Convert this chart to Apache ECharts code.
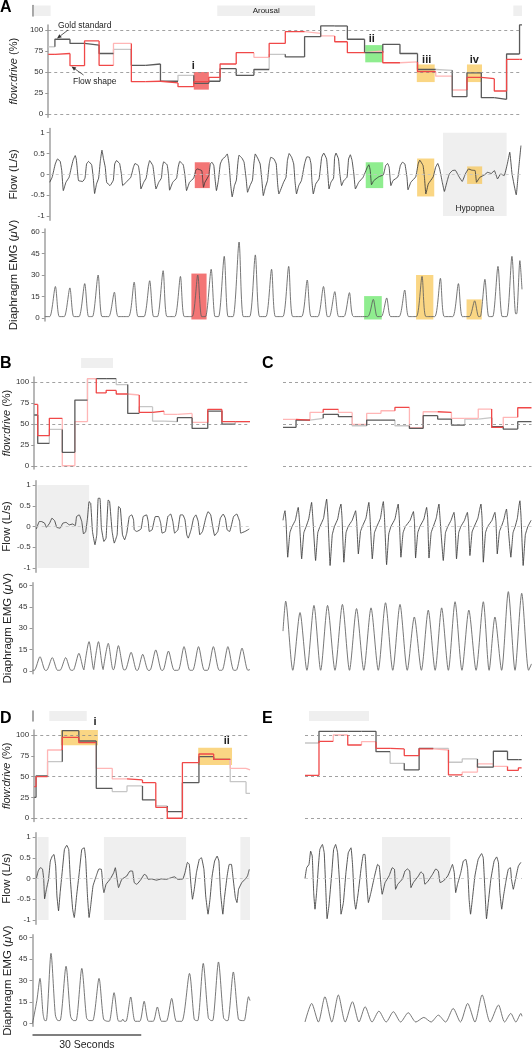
<!DOCTYPE html>
<html><head><meta charset="utf-8">
<script src="https://cdn.jsdelivr.net/npm/echarts@6/dist/echarts.min.js"></script>
<style>html,body{margin:0;padding:0;background:#fff}#c{width:532px;height:1050px}</style>
</head><body><div id="c"></div><script>
// ---------------- DATA (time in seconds) ----------------
const fdTicks = [0,25,50,75,100];
const flowTicks = [-1,-0.5,0,0.5,1];
const emgTicks = [0,15,30,45,60];

// Panel A flow:drive per breath
const fdBoundsA = [0,1.9,6.2,10.35,14.5,18.6,23.7,27.8,32.0,37.0,41.5,45.8,49.0,53.6,58.65,63.0,67.6,73.1,77.7,81.7,85.3,90.2,95.4,100.3,105.3,110.5,115.2,119.4,123.5,127.2,130.7,134.4,135.1];
const goldA = [80,89,84,82,72,77,58,59.5,39,46,36.5,39,54,46,53,71,68,92,104.8,104.8,89,73,83,72,53,52,20.6,49,19.4,17.5,71.4,106];
const goldAdark = [0,1,1,1,1,0,1,1,1,0,1,1,1,1,1,0,1,1,1,1,1,1,1,1,1,0,1,1,1,1,1,1];
const shapeA = [71,72,57.5,87,58,84,38.5,39,37,32.5,38.5,43.6,59.5,73,67.5,84,98,96,93,86,73,75,61,62,50.4,45,28.6,43.6,42,27.4,65,65];
const shapeAdark = [1,1,1,1,1,0,1,1,1,1,1,1,1,1,0,1,1,0,0,1,1,0,1,0,1,0,0,1,1,1,1,1];

const fdBoundsB = [0,0.97,4.2,7.8,11.3,14.8,17.25,20.0,22.8,26.0,29.2,32.9,36.1,39.8,43.9,48.25,52.2,55.9,60.0];
const goldB = [60.6,26.7,43.4,16,78.5,104,104,104,97,62.5,70.5,53.4,52.6,57.4,44.6,65.3,49.8,52.6];
const goldBdark = [1,1,0,1,1,0,1,1,0,1,0,0,0,1,1,1,1,0];
const shapeB = [73.3,35.9,56.6,0,52.6,104,87,90,85.7,84.5,63.7,65.3,61.4,62.5,51.8,67.3,52.6,52.6];
const shapeBdark = [1,1,1,0,0,0,1,1,1,0,1,1,0,0,0,1,1,1];

const fdBoundsC = [0,3.6,7.45,11.1,15.3,19.1,23.1,27.05,30.9,34.9,38.7,42.7,46.5,50.2,53.9,57.6,60.8,64.8,68.6];
const goldC = [45.8,54.6,56.6,61.4,58.6,47.8,54.6,54.6,47.8,44.6,59.8,55.8,48.6,55.8,57.4,46.6,43.8,52.6];
const goldCdark = [1,1,0,1,1,0,1,1,0,1,1,1,1,0,0,1,1,1];
const shapeC = [55.4,54.6,63.7,67.3,63.7,49.4,62.5,65.7,69.7,45.4,64.5,63.7,56.6,56.6,67.7,45.8,57.8,69.3];
const shapeCdark = [0,1,0,1,0,0,0,0,1,0,0,1,0,0,0,1,0,1];

const fdBoundsD = [0,0.5,3.7,7.8,12.4,17.25,21.7,25.8,30.1,33.8,37.0,41.2,45.8,49.9,54.5,58.9,60.0];
const goldD = [25,50.8,68,105.2,92.8,36,32,38.8,22,14.8,8,42.8,74,70.8,44,30];
const goldDdark = [1,1,0,1,1,1,0,0,1,0,1,1,1,1,0,0];
const shapeD = [38,50,82,97.2,90.8,60,47.2,46,42.8,13.2,0,66.8,77.2,70.8,60,58];
const shapeDdark = [1,1,0,1,1,0,0,1,1,1,1,1,1,1,0,0];

const fdBoundsE = [0,3.86,7.8,11.8,15.6,19.6,23.5,27.4,31.5,35.4,39.6,43.4,47.6,52.0,55.9,58.9,59.8];
const goldE = [90.4,104.4,104.4,104.4,104.4,80,66,58,84,84,67.3,71.3,61.4,80.5,70.5,70.5];
const goldEdark = [0,1,1,1,1,1,0,1,1,0,0,0,1,1,1,1];
const shapeE = [51.4,92.4,100,88,92,84,83.3,75.3,83.3,82,52.2,55.4,65.3,62.2,57.4,60.5];
const shapeEdark = [1,1,0,1,0,1,1,1,1,0,1,0,0,0,1,1];

// Flow traces [t, L/s]
const flowA = [[0,-0.19],[0.7,-0.07],[1.6,0.25],[2.25,0.37],[3.0,0.31],[3.45,0.09],[3.9,-0.39],[4.65,-0.19],[5.55,-0.07],
[6.2,0.17],[6.7,0.34],[7.3,0.45],[7.6,0.37],[7.85,0.17],[8.25,-0.15],[9.45,-0.17],[10.1,-0.09],
[10.55,0.25],[11.1,0.31],[12.0,0.23],[12.45,-0.07],[12.85,-0.46],[13.4,-0.23],[14.0,-0.09],
[14.5,0.33],[14.95,0.58],[15.4,0.37],[15.9,0.17],[16.3,-0.19],[17.25,-0.27],[18.2,-0.14],
[18.6,0.25],[19.1,0.33],[20.0,0.26],[20.5,0.01],[20.9,-0.27],[21.85,-0.19],[23.2,-0.07],
[23.95,0.17],[24.4,0.26],[25.35,0.21],[25.8,-0.03],[26.1,-0.35],[26.9,-0.19],[27.6,-0.09],
[28.1,0.17],[28.6,0.33],[29.5,0.21],[29.95,-0.07],[30.4,-0.35],[31.2,-0.19],[31.95,-0.09],
[32.25,0.17],[32.6,0.30],[33.6,0.23],[34.0,-0.03],[34.3,-0.38],[35.2,-0.19],[36.3,-0.09],
[36.75,0.17],[37.2,0.31],[38.2,0.23],[38.7,-0.03],[39.15,-0.39],[40.0,-0.19],[41.2,-0.09],
[41.8,0.10],[42.2,0.13],[43.5,0.09],[43.75,-0.11],[44.0,-0.31],[44.4,-0.19],[45.5,-0.03],
[45.95,0.25],[46.4,0.29],[46.95,0.21],[47.3,-0.11],[47.7,-0.39],[48.25,-0.15],
[48.8,0.25],[49.45,0.37],[50.1,0.41],[50.8,0.49],[51.3,0.25],[51.75,-0.23],[52.2,-0.54],[52.85,-0.27],[53.4,-0.14],
[53.8,0.25],[54.15,0.46],[55.0,0.39],[55.6,0.29],[56.2,-0.11],[56.6,-0.43],[57.3,-0.27],[58.0,-0.14],
[58.4,0.25],[58.8,0.49],[59.6,0.37],[60.2,0.25],[60.7,-0.15],[61.1,-0.51],[61.7,-0.31],[62.3,-0.15],
[62.8,0.25],[63.25,0.41],[64.15,0.37],[64.8,0.25],[65.2,-0.23],[65.55,-0.47],[66.9,-0.19],[67.6,-0.07],
[68.0,0.33],[68.5,0.50],[69.2,0.41],[69.8,0.25],[70.15,-0.15],[70.6,-0.47],[71.25,-0.27],[72.0,-0.15],
[72.9,0.25],[73.55,0.42],[74.3,0.41],[74.75,0.25],[75.0,-0.15],[75.4,-0.47],[76.1,-0.23],[77.05,-0.11],
[77.8,0.41],[78.4,0.51],[79.2,0.37],[79.5,0.09],[79.9,-0.35],[80.45,-0.19],[81.2,-0.09],
[81.5,0.41],[81.9,0.51],[82.6,0.37],[83.0,0.01],[83.5,-0.27],[84.1,-0.15],[85.05,-0.07],
[85.5,0.37],[86.0,0.47],[86.5,0.33],[87.0,0.01],[87.45,-0.35],[88.4,-0.19],[89.65,-0.07],
[90.85,0.17],[91.3,0.23],[91.7,0.09],[92.05,-0.25],[92.7,-0.15],[94.1,-0.06],[95.45,-0.01],
[96.1,0.21],[96.65,0.26],[97.1,0.17],[97.6,-0.27],[98.2,-0.15],[99.6,-0.06],
[100.3,0.21],[100.9,0.29],[101.6,0.25],[102.2,-0.07],[102.5,-0.37],[103.3,-0.19],[104.7,-0.06],
[105.4,0.25],[105.85,0.34],[106.8,0.21],[107.2,-0.07],[107.6,-0.47],[108.3,-0.23],[109.7,-0.06],
[110.4,0.17],[111.0,0.26],[111.55,0.13],[112.3,-0.19],[112.9,-0.41],[113.6,-0.19],[114.3,0.01],
[115.2,0.09],[116.0,0.10],[117.1,-0.06],[118.0,-0.17],[118.9,0.01],[119.8,0.13],[120.75,0.10],[121.7,0.09],[122.1,-0.19],[123.05,-0.07],[124.25,-0.02],[125.3,0.05],[126.3,0.02],[127.2,0.09],[128.1,-0.11],[129.0,0.01],[130.0,-0.03],
[130.9,0.25],[131.6,0.53],[132.25,0.01],[133.45,-0.49],[134.1,0.09],[134.8,0.69]];

const flowB = [[0.2,-0.06],[1.0,0.12],[1.6,0.12],[2.5,0.08],[3.0,-0.02],[3.9,0.08],[4.55,0.2],[5.3,0.14],[5.9,-0.02],[6.85,-0.04],[7.6,0.08],[8.5,0.10],[9.4,0.04],[10.35,0.06],[11.1,0.02],[11.45,0.24],[12.2,0.28],[12.9,0.12],[13.4,-0.18],[14.0,-0.12],[14.5,0.2],[14.95,0.6],[15.4,0.56],[15.9,-0.12],[16.6,-0.44],[17.1,-0.2],[17.5,0.68],[18.0,0.68],[18.4,-0.04],[19.1,-0.36],[19.7,-0.28],[20.3,0.64],[20.7,0.6],[21.4,-0.12],[22.0,-0.4],[22.8,-0.2],[23.2,0.48],[23.7,0.44],[24.3,-0.2],[24.9,-0.32],[25.5,-0.16],[26.2,0.24],[26.9,0.28],[27.4,0.16],[27.6,-0.08],[28.3,-0.12],[29.5,-0.06],[30.1,0.24],[31.05,0.28],[31.5,0.12],[31.8,-0.12],[32.6,-0.08],[33.5,0.24],[34.4,0.24],[35.0,0.08],[35.4,-0.16],[36.3,-0.12],[37.0,0.24],[37.8,0.3],[38.4,0.12],[38.9,-0.16],[39.8,-0.08],[40.5,0.28],[41.2,0.28],[41.8,0.16],[42.3,-0.2],[42.7,-0.28],[43.5,-0.08],[44.2,0.2],[44.85,0.28],[45.5,0.12],[45.95,-0.2],[46.7,-0.12],[47.6,0.2],[48.25,0.36],[49.0,0.28],[49.4,0.08],[50.1,-0.22],[51.0,-0.12],[51.7,0.2],[52.5,0.3],[53.1,0.2],[53.6,-0.08],[54.3,-0.12],[55.4,0.24],[56.3,0.3],[57.1,0.12],[57.4,-0.16],[58.6,-0.12],[59.8,-0.06]];

const flowC = [[0,0.15],[0.3,0.3],[0.55,0.38],[0.85,0.1],[1.3,-0.74],[1.9,-0.15],[2.5,0.0],[3.4,0.15],[3.9,0.36],[4.2,0.46],[4.5,0.2],[5.15,-0.78],[5.75,-0.15],[6.4,0.0],[7.1,0.18],[7.6,0.45],[7.9,0.58],[8.2,0.25],[9.0,-0.82],[9.6,-0.15],[10.2,0.0],[11.2,0.2],[11.7,0.5],[12.05,0.66],[12.4,0.25],[13.0,-0.94],[13.6,-0.2],[14.2,0.0],[15.1,0.18],[15.6,0.42],[16.0,0.54],[16.3,0.2],[16.8,-0.86],[17.4,-0.15],[18.0,0.0],[19.1,0.15],[19.7,0.3],[20.05,0.38],[20.35,0.1],[20.8,-0.66],[21.4,-0.12],[22.0,0.02],[22.9,0.2],[23.4,0.45],[23.7,0.58],[24.0,0.25],[24.65,-0.78],[25.25,-0.15],[25.9,0.0],[26.9,0.2],[27.4,0.48],[27.7,0.6],[28.0,0.25],[28.6,-0.92],[29.2,-0.18],[29.8,0.0],[30.9,0.18],[31.45,0.42],[31.8,0.54],[32.1,0.2],[32.55,-0.74],[33.15,-0.15],[33.8,0.0],[35.1,0.15],[35.7,0.3],[36.0,0.36],[36.3,0.1],[36.6,-0.76],[37.2,-0.15],[37.8,0.0],[38.9,0.18],[39.35,0.36],[39.65,0.46],[39.95,0.2],[40.3,-0.76],[40.9,-0.15],[41.5,0.0],[42.3,0.2],[42.75,0.42],[43.05,0.54],[43.35,0.2],[44.25,-0.82],[44.85,-0.15],[45.5,0.0],[46.4,0.15],[46.9,0.28],[47.2,0.34],[47.5,0.1],[47.9,-0.78],[48.5,-0.15],[49.1,0.0],[50.1,0.15],[50.6,0.28],[50.9,0.34],[51.2,0.1],[51.6,-0.7],[52.2,-0.13],[52.8,0.0],[53.8,0.2],[54.3,0.42],[54.65,0.54],[54.95,0.2],[55.3,-0.86],[55.9,-0.15],[56.5,0.0],[57.7,0.15],[58.2,0.28],[58.5,0.34],[58.8,0.1],[59.15,-0.66],[59.75,-0.12],[60.3,0.0],[61.0,0.18],[61.4,0.34],[61.7,0.42],[62.0,0.15],[62.9,-0.74],[63.5,-0.15],[64.1,0.0],[64.7,0.2],[65.1,0.48],[65.4,0.62],[65.7,0.25],[66.3,-0.94],[66.9,-0.2],[67.6,0.0],[68.5,0.15]];

const flowD = [[0.2,0],[0.7,0.18],[1.3,0.26],[1.9,0.23],[2.25,-0.02],[2.5,-0.49],[3.0,-0.26],[3.6,-0.02],[4.1,0.42],[4.65,0.54],[5.1,0.58],[5.6,0.3],[5.95,-0.42],[6.4,-0.78],[6.85,-0.34],[7.4,0.14],[8.05,0.7],[8.7,0.8],[9.25,0.7],[9.7,-0.02],[10.35,-0.74],[10.8,-0.94],[11.45,-0.42],[12.2,0.14],[12.9,0.7],[13.6,0.74],[14.0,0.46],[14.5,-0.42],[14.95,-0.94],[15.4,-0.66],[16.05,-0.18],[16.95,0.06],[17.7,0.23],[18.4,0.22],[18.8,-0.18],[19.1,-0.34],[19.7,-0.14],[20.9,-0.01],[21.85,0.14],[22.3,0.26],[22.8,-0.02],[23.2,-0.22],[24.1,-0.02],[25.5,0.06],[26.4,0.18],[27.1,0.18],[27.6,-0.1],[28.3,-0.14],[29.5,-0.02],[30.4,0.1],[31.0,0.07],[31.5,-0.02],[32.4,-0.01],[33.8,-0.04],[35.2,-0.01],[36.6,-0.02],[37.95,0.02],[38.9,0.04],[39.8,-0.02],[41.2,-0.01],[41.8,0.14],[42.5,0.39],[43.0,0.34],[43.5,-0.18],[43.9,-0.5],[44.4,-0.26],[45.0,0.14],[45.8,0.46],[46.4,0.5],[47.1,0.22],[47.6,-0.42],[48.25,-0.86],[48.8,-0.5],[49.4,0.06],[50.1,0.42],[50.8,0.54],[51.3,0.42],[51.75,-0.34],[52.4,-0.86],[52.8,-0.5],[53.6,0.06],[54.2,0.34],[54.8,0.34],[55.2,0.06],[55.9,-0.46],[56.35,-0.58],[56.8,-0.26],[57.7,-0.1],[58.6,-0.02],[59.3,0.06],[59.8,0.22]];

const flowE = [[0,0],[0.46,0.26],[1.1,0.34],[1.56,0.66],[2.0,0.54],[2.4,-0.34],[2.76,-0.74],[3.2,-0.34],[3.7,0.3],[4.1,0.7],[4.8,0.82],[5.3,0.62],[5.7,-0.18],[6.1,-0.97],[6.6,-0.66],[7.4,0.14],[7.9,0.7],[8.45,0.82],[9.0,0.62],[9.6,-0.18],[9.95,-0.86],[10.6,-0.58],[11.3,0.14],[11.95,0.62],[12.7,0.74],[13.15,0.3],[13.6,-0.5],[14.0,-0.74],[14.7,-0.34],[15.45,0.22],[16.1,0.58],[16.55,0.58],[17.0,-0.02],[17.5,-0.58],[18.2,-0.34],[19.1,0.02],[20.05,0.34],[20.5,0.3],[21.0,-0.18],[21.3,-0.38],[22.1,-0.1],[23.2,0.06],[24.1,0.26],[24.7,0.22],[25.0,-0.26],[25.6,-0.14],[26.9,-0.01],[27.6,0.18],[28.3,0.23],[28.9,0.18],[29.25,-0.22],[29.9,-0.1],[31.3,0.06],[32.0,0.16],[32.7,0.1],[33.1,-0.14],[34.0,-0.06],[35.2,0.1],[36.1,0.23],[36.8,0.18],[37.3,-0.1],[38.2,-0.06],[39.4,0.06],[40.0,0.18],[40.7,0.34],[41.2,0.14],[41.6,-0.34],[42.1,-0.14],[43.0,0.14],[43.7,0.42],[44.4,0.46],[44.9,0.22],[45.3,-0.5],[45.7,-0.86],[46.2,-0.5],[46.9,0.06],[47.8,0.46],[48.75,0.6],[49.2,0.5],[49.7,-0.34],[50.1,-0.97],[50.6,-0.58],[51.3,-0.02],[52.2,0.42],[52.9,0.52],[53.4,0.38],[53.8,-0.34],[54.3,-0.74],[54.8,-0.42],[55.4,-0.1],[56.1,0.22],[56.7,0.26],[57.0,-0.02],[57.5,-0.26],[58.1,-0.02],[58.9,0.3],[59.6,0.39]];

// Diaphragm EMG traces [t, µV]
const emgA = [[0,1],[1.4,1],[3.0,22],[4.1,1],[5.5,1],[7.1,21],[8.2,1],[9.7,1],[11.3,24],[12.4,1],[13.5,1],[15.1,30],[16.2,1],[18.1,1],[19.7,18],[20.8,1],[23.7,1],[25.3,25],[26.4,1],[28.1,1],[29.7,26],[30.8,1],[31.9,1],[33.5,33],[34.6,1],[36.8,1],[38.4,29],[39.5,1],[41.7,1],[43.3,30],[44.4,1],[45.5,1],[47.1,34],[48.2,1],[49.2,1],[50.8,43],[51.9,1],[53.3,1],[55.0,53],[56.2,1],[58.0,1],[59.6,44],[60.8,1],[62.6,1],[64.2,34],[65.3,1],[67.4,1],[69.05,36],[70.2,1],[72.7,1],[74.3,26.5],[75.4,1],[77.3,1],[78.9,22],[80.0,1],[80.6,1],[82.1,18.4],[83.2,1],[84.7,1],[86.25,17.7],[87.4,1],[91.4,1],[93.0,13],[94.1,1],[95.3,1],[96.8,14],[97.9,1],[100.3,1],[101.9,19.5],[103.0,1],[105.2,1],[106.8,29],[107.9,1],[110.4,1],[112.0,27.7],[113.1,1],[115.5,1],[117.1,24],[118.2,1],[120.2,1],[121.7,12],[122.8,1],[123.3,1],[124.6,27],[125.7,1],[126.8,1],[128.3,36],[129.5,1],[130.8,1],[132.25,43],[133.3,3],[133.6,3],[134.5,40],[135.1,20]];

const emgB = [[0,0.5],[0.5,0.5],[2.07,10],[3.5,0.5],[3.9,0.5],[5.47,9.4],[6.9,0.5],[7.6,0.5],[9.15,9.4],[10.6,0.5],[11.2,0.5],[12.8,12.4],[14.2,0.8],[14.3,0.8],[15.6,20.6],[16.9,1],[17.0,1],[18.2,20.6],[19.5,1],[19.6,1],[20.9,19.4],[22.2,1],[22.4,1],[23.7,17.8],[25.2,0.8],[25.6,0.8],[27.2,13.1],[28.7,0.5],[29.0,0.5],[30.4,11.7],[31.9,0.5],[32.4,0.5],[34.0,14.8],[35.6,0.5],[36.0,0.5],[37.5,14],[39.1,0.5],[40.2,0.5],[41.8,17.1],[43.4,0.5],[44.2,0.5],[45.8,17.1],[47.4,0.5],[48.3,0.5],[49.9,17.1],[51.5,0.5],[52.3,0.5],[53.9,17.1],[55.5,0.5],[56.2,0.5],[57.8,16],[59.4,0.5],[60,1]];

const emgC = [[0,28],[0.74,49],[2.7,0.5],[4.7,41],[6.6,0.5],[8.55,46],[10.4,0.5],[12.3,46],[14.35,0.5],[16.4,46.7],[18.35,0.5],[20.3,43.8],[22.3,0.5],[24.3,44.3],[26.3,0.5],[28.3,47.9],[30.3,0.5],[32.3,46.7],[34.3,0.5],[36.25,37.9],[38.2,0.5],[40.1,42.7],[42.0,0.5],[43.8,44.3],[45.65,0.5],[47.5,48.6],[49.4,0.5],[51.3,42.7],[53.3,0.5],[55.3,48.6],[56.9,0.5],[58.5,37.9],[60.35,0.5],[62.2,55.7],[64.05,0.5],[65.9,54.5],[67.8,0.5],[68.6,5]];

const emgD = [[0,0],[1.2,16],[2.07,31.5],[2.9,7],[3.4,2],[3.8,2],[5.1,49],[6.3,6],[7.0,2],[7.6,2],[9.25,40],[10.5,5],[11.3,2],[12.0,2],[13.6,38.5],[14.9,4],[15.6,2],[16.6,2],[18.35,31.5],[19.6,3],[20.7,1.5],[21.2,1.5],[22.5,21.5],[23.6,2],[24.5,1.5],[24.9,3],[25.3,1.5],[25.8,1.5],[27.1,18.5],[28.3,1.5],[29.6,1.5],[30.8,15.5],[32.0,1.5],[33.3,1.5],[34.45,11.5],[35.6,1.5],[36.9,1.5],[38.4,17.5],[39.7,1.5],[41.2,1.5],[43.3,35],[44.6,3],[45.2,2],[45.6,2],[47.1,42],[48.5,4],[49.3,2],[49.7,2],[51.3,43],[52.7,4],[53.5,2],[53.9,2],[55.4,36],[56.8,3],[57.8,2],[58.4,2],[59.6,18.7],[60,16]];

const emgE = [[0,1],[1.84,14],[3.7,1],[5.5,18.7],[7.4,1],[9.2,19.9],[11.1,1],[13.1,15.2],[14.9,1],[16.6,11.7],[18.5,1],[20.4,8.6],[22.4,1],[24.4,8.2],[26.4,1],[28.5,7.5],[30.6,1],[32.8,4.2],[34.8,1],[36.8,5.8],[38.8,1],[40.9,10.5],[42.9,1],[44.9,14],[46.9,1],[48.9,19.9],[51.1,1],[53.4,12.9],[55.1,1],[56.8,7],[58.2,1],[59.6,7],[59.9,5]];

// Highlight boxes [t0, t1, y0, y1, kind]
const boxesAfd = [[41.5,45.8,29,50,'red'],[90.4,95.4,61.5,82,'green'],[105.1,110.2,38,59,'yellow'],[119.4,123.7,38,59,'yellow']];
const boxesAflow = [[112.5,130.7,-1,1,'gray'],[41.5,45.8,-0.33,0.29,'red'],[90.4,95.4,-0.33,0.29,'green'],[105.1,110.0,-0.53,0.38,'yellow'],[119.4,123.7,-0.23,0.19,'yellow']];
const boxesAemg = [[41.5,45.8,-1,31,'red'],[90.4,95.4,-1,15.3,'green'],[105.1,110.0,-1,30,'yellow'],[119.4,123.7,-1,13,'yellow']];
const boxesBflow = [[0.5,14.96,-1,1,'gray']];
const boxesDfd = [[7.4,17.7,87.6,108,'yellow'],[45.6,55.0,64,84.8,'yellow']];
const boxesDflow = [[0.5,3.6,-1,1,'gray'],[19.1,42.1,-1,1,'gray'],[57.3,60,-1,1,'gray']];
const boxesEflow = [[21.25,40.1,-1,1,'gray']];
// Arousal bars [t0, t1]
const arousalA = [[0.4,5.0],[51.0,78.0],[132.7,135.1]];
const arousalB = [[13.4,22.2]];
const arousalD = [[4.64,14.96]];
const arousalE = [[1.1,17.66]];

// ---------------- CHART ----------------
const FONT = 'Liberation Sans, Arial, Helvetica, sans-serif';
const BOXC = {red:'rgba(240,80,80,0.78)', green:'rgba(95,230,95,0.7)', yellow:'rgba(248,196,80,0.7)', gray:'#efefef'};
const grids=[], xAxes=[], yAxes=[], series=[];

const COLS = {
  A:{left:32.5,width:489.5,T:135.1},
  B:{left:32.5,width:217.5,T:60},
  C:{left:283,width:248.5,T:68.6},
  D:{left:32.5,width:217.5,T:60},
  E:{left:305,width:217,T:59.9}
};
const ROWS = {
  top:{aro:[5.5,10.5],fd:[24.96,92.4],flow:[128.5,91.7],emg:[229.1,91.8]},
  mid:{aro:[358,10],fd:[377,92.1],flow:[480.85,91.3],emg:[582.65,91.2]},
  bot:{aro:[711,10],fd:[730,91.6],flow:[832.85,91.3],emg:[934.8,91.5]}
};
const KIND = {
  aro:{min:0,max:1},
  fd:{min:-4,max:106,ticks:fdTicks,name:'{i|flow:drive} (%)',gap:17.5,fs:11},
  flow:{min:-1.1,max:1.1,ticks:flowTicks,name:'Flow (L/s)',gap:19,fs:11.5},
  emg:{min:-2,max:62,ticks:emgTicks,name:'Diaphragm EMG ({i|\u03bc}V)',gap:18.5,fs:11.5}
};

function addGrid(col,row,kind,showAxis){
  const c=COLS[col], r=ROWS[row][kind], k=KIND[kind];
  const gi=grids.length;
  grids.push({left:c.left,top:r[0],width:c.width,height:r[1],containLabel:false});
  xAxes.push({type:'value',gridIndex:gi,min:0,max:c.T,show:false});
  const y={type:'value',gridIndex:gi,min:k.min,max:k.max,splitLine:{show:false}};
  if(!showAxis){ y.show=false; }
  else if(kind==='aro'){
    Object.assign(y,{axisLine:{show:true,lineStyle:{color:'#888',width:1.5}},axisTick:{show:false},axisLabel:{show:false}});
  } else {
    Object.assign(y,{
      name:k.name,nameLocation:'middle',nameGap:k.gap,
      nameTextStyle:{fontSize:k.fs,fontFamily:FONT,color:'#222',rich:{i:{fontStyle:'italic',fontSize:k.fs,fontFamily:FONT,color:'#222'}}},
      axisLine:{show:true,lineStyle:{color:'#a0a0a0',width:1.5}},
      axisTick:{show:true,length:3,customValues:k.ticks,lineStyle:{color:'#999',width:1}},
      axisLabel:{show:true,customValues:k.ticks,fontSize:8,fontFamily:FONT,color:'#333',margin:5}
    });
  }
  yAxes.push(y);
  return gi;
}

function addBoxes(g,boxes,lines,lineColor,labels){
  const areas = boxes.map((b,i)=>{
    const a=[{xAxis:b[0],yAxis:b[2],itemStyle:{color:BOXC[b[4]]}},{xAxis:b[1],yAxis:b[3]}];
    if(labels && labels[i]){ a[0].name=labels[i].text; a[0].label=Object.assign({show:true,fontFamily:FONT,color:'#222'},labels[i].style); }
    return a;
  });
  const s={type:'line',xAxisIndex:g,yAxisIndex:g,data:[],symbol:'none',silent:true,z:1,animation:false,
    markArea:{silent:true,label:{show:false},data:areas}};
  if(lines){
    s.markLine={silent:true,symbol:['none','none'],label:{show:false},animation:false,
      lineStyle:{type:[3,3],color:lineColor,width:0.8},data:lines.map(v=>({yAxis:v}))};
  }
  series.push(s);
}

function addSteps(g,bounds,vals,dark,cDark,cLight,z){
  for(let i=0;i<vals.length;i++){
    const d=[];
    if(i>0) d.push([bounds[i],vals[i-1]]);
    d.push([bounds[i],vals[i]]);
    d.push([bounds[i+1],vals[i]]);
    series.push({type:'line',xAxisIndex:g,yAxisIndex:g,data:d,symbol:'none',silent:true,clip:false,animation:false,
      lineStyle:{color:dark[i]?cDark:cLight,width:1.3},z:z+(dark[i]?2:0)});
  }
}
function addTrace(g,data,color,smooth){
  series.push({type:'line',xAxisIndex:g,yAxisIndex:g,data:data,symbol:'none',silent:true,animation:false,smooth:smooth,
    lineStyle:{color:color,width:0.85},z:3});
}

const GOLD_D='#5a5a5a', GOLD_L='#c6c6c6', RED_D='#f04848', RED_L='#ffb6b6';
const panels = [
  {col:'A',row:'top',ax:true,aro:arousalA,bounds:fdBoundsA,gold:goldA,goldDark:goldAdark,shape:shapeA,shapeDark:shapeAdark,fdBoxes:boxesAfd,flow:flowA,flowBoxes:boxesAflow,emg:emgA,emgBoxes:boxesAemg},
  {col:'B',row:'mid',ax:true,aro:arousalB,bounds:fdBoundsB,gold:goldB,goldDark:goldBdark,shape:shapeB,shapeDark:shapeBdark,fdBoxes:[],flow:flowB,flowBoxes:boxesBflow,emg:emgB,emgBoxes:[]},
  {col:'C',row:'mid',ax:false,aro:[],bounds:fdBoundsC,gold:goldC,goldDark:goldCdark,shape:shapeC,shapeDark:shapeCdark,fdBoxes:[],flow:flowC,flowBoxes:[],emg:emgC,emgBoxes:[]},
  {col:'D',row:'bot',ax:true,aro:arousalD,bounds:fdBoundsD,gold:goldD,goldDark:goldDdark,shape:shapeD,shapeDark:shapeDdark,fdBoxes:boxesDfd,flow:flowD,flowBoxes:boxesDflow,emg:emgD,emgBoxes:[]},
  {col:'E',row:'bot',ax:false,aro:arousalE,bounds:fdBoundsE,gold:goldE,goldDark:goldEdark,shape:shapeE,shapeDark:shapeEdark,fdBoxes:[],flow:flowE,flowBoxes:boxesEflow,emg:emgE,emgBoxes:[]}
];
const gridOf={};
panels.forEach(p=>{
  const gA=addGrid(p.col,p.row,'aro',p.ax && p.col!=='B');
  const aroLabels = p.col==='A' ? [null,{text:'Arousal',style:{position:'inside',fontSize:8,formatter:'{b}'}},null] : null;
  addBoxes(gA,p.aro.map(a=>[a[0],a[1],0,1,'gray']),null,null,aroLabels);
  const gF=addGrid(p.col,p.row,'fd',p.ax);
  addBoxes(gF,p.fdBoxes,[0,50,100],'#8a8a8a');
  addSteps(gF,p.bounds,p.gold,p.goldDark,GOLD_D,GOLD_L,2);
  addSteps(gF,p.bounds,p.shape,p.shapeDark,RED_D,RED_L,3);
  const gW=addGrid(p.col,p.row,'flow',p.ax);
  const flowLabels = p.col==='A' ? [{text:'Hypopnea',style:{position:'insideBottom',distance:3,fontSize:8.5,formatter:'{b}'}}] : null;
  addBoxes(gW,p.flowBoxes,[0],'#c4c4c4',flowLabels);
  addTrace(gW,p.flow,'#3a3a3a',0.1);
  const gE=addGrid(p.col,p.row,'emg',p.ax);
  addBoxes(gE,p.emgBoxes,null,null);
  addTrace(gE,p.emg,'#5e5e5e',0.25);
  gridOf[p.col]={aro:gA,fd:gF,flow:gW,emg:gE};
});

const chart=echarts.init(document.getElementById('c'),null,{renderer:'canvas'});
chart.setOption({animation:false,backgroundColor:'#fff',grid:grids,xAxis:xAxes,yAxis:yAxes,series:series});

// ---------------- annotations ----------------
function txt(x,y,t,o){return Object.assign({type:'text',x:x,y:y,z:50,style:Object.assign({text:t,fontFamily:FONT,fontSize:9,fill:'#222',align:'left',verticalAlign:'middle'},o||{})});}
function arrow(x1,y1,x2,y2){
  const a=Math.atan2(y2-y1,x2-x1),L=4.5,w=2;
  const bx=x2-L*Math.cos(a), by=y2-L*Math.sin(a);
  return [
    {type:'line',z:50,shape:{x1:x1,y1:y1,x2:bx,y2:by},style:{stroke:'#333',lineWidth:0.8}},
    {type:'polygon',z:50,shape:{points:[[x2,y2],[bx+w*Math.sin(a),by-w*Math.cos(a)],[bx-w*Math.sin(a),by+w*Math.cos(a)]]},style:{fill:'#333'}}
  ];
}
const g=[];
g.push(txt(0,8,'A',{fontSize:16,fontWeight:'bold',fill:'#000'}));
g.push(txt(0,364,'B',{fontSize:16,fontWeight:'bold',fill:'#000'}));
g.push(txt(262,364,'C',{fontSize:16,fontWeight:'bold',fill:'#000'}));
g.push(txt(0,719,'D',{fontSize:16,fontWeight:'bold',fill:'#000'}));
g.push(txt(262,719,'E',{fontSize:16,fontWeight:'bold',fill:'#000'}));
g.push(txt(58,26,'Gold standard',{fontSize:8.5}));
g.push(txt(73,81.7,'Flow shape',{fontSize:8.5}));
g.push(...arrow(68,30,57,38.5));
g.push(...arrow(83.5,75,71.5,66.5));
g.push(txt(193.3,65.5,'i',{fontSize:11,fontWeight:'bold',align:'center'}));
g.push(txt(371.7,39,'ii',{fontSize:11,fontWeight:'bold',align:'center'}));
g.push(txt(426.7,60,'iii',{fontSize:11,fontWeight:'bold',align:'center'}));
g.push(txt(474.3,60,'iv',{fontSize:11,fontWeight:'bold',align:'center'}));
g.push(txt(95,721.7,'i',{fontSize:11,fontWeight:'bold',align:'center'}));
g.push(txt(226.7,741,'ii',{fontSize:11,fontWeight:'bold',align:'center'}));
// 30 s scale bar from D's time axis
const p0=chart.convertToPixel({gridIndex:gridOf.D.emg},[0,0]);
const p30=chart.convertToPixel({gridIndex:gridOf.D.emg},[30,0]);
g.push({type:'line',z:50,shape:{x1:p0[0],y1:1035,x2:p30[0],y2:1035},style:{stroke:'#555',lineWidth:1.3}});
g.push(txt((p0[0]+p30[0])/2,1045.5,'30 Seconds',{fontSize:10.5,align:'center'}));
chart.setOption({graphic:g});
</script></body></html>
